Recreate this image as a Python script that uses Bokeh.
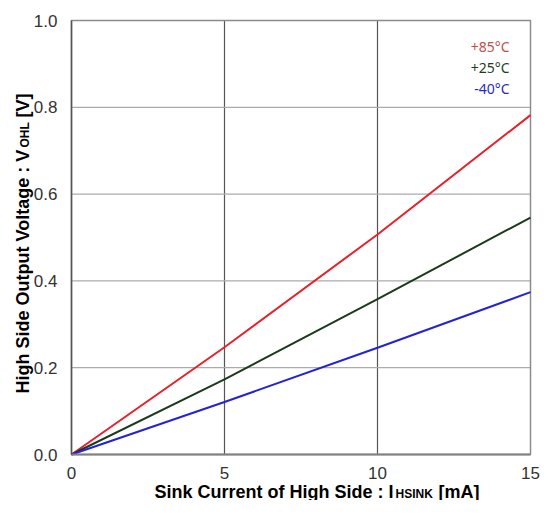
import math
from bokeh.plotting import figure
from bokeh.models import Label, FixedTicker, Range1d, PrintfTickFormatter
from bokeh.embed import file_html
from bokeh.resources import INLINE

# ---- data ----
current_ma = [0, 5, 10, 15]
v_85 = [0.0, 0.247, 0.507, 0.782]
v_25 = [0.0, 0.173, 0.358, 0.546]
v_m40 = [0.0, 0.121, 0.246, 0.374]
series_names = ["+85°C", "+25°C", "-40°C"]
x_ticks = [0, 5, 10, 15]
y_ticks = [0.0, 0.2, 0.4, 0.6, 0.8, 1.0]
x_grid = [5, 10]
y_grid = [0.2, 0.4, 0.6, 0.8]
x_lim = (0, 15)
y_lim = (0.0, 1.0)

line_colors = ["#E8202A", "#1C3A1C", "#2222D8"]
text_colors = ["#C0504D", "#1E3F1E", "#2A2AB8"]

# ---- layout (canvas pixels) ----
W, H = 540, 500
F_LEFT, F_RIGHT, F_TOP, F_BOTTOM = 71, 530, 20, 454
sx = (F_RIGHT - F_LEFT) / (x_lim[1] - x_lim[0])
sy = (F_BOTTOM - F_TOP) / (y_lim[1] - y_lim[0])


def px2x(px):
    return x_lim[0] + (px - F_LEFT) / sx


def py2y(py):
    return y_lim[0] + (F_BOTTOM - py) / sy


p = figure(width=W, height=H, output_backend="svg", toolbar_location=None,
           x_range=Range1d(px2x(0), px2x(W)), y_range=Range1d(py2y(H), py2y(0)),
           min_border=0)
p.background_fill_color = "white"
p.border_fill_color = "white"
p.outline_line_color = None
p.grid.visible = False

# grid lines inside the data area
p.segment(x0=x_grid, y0=[y_lim[0]] * len(x_grid), x1=x_grid, y1=[y_lim[1]] * len(x_grid),
          line_color="#555555", line_width=1.2)
p.segment(x0=[x_lim[0]] * len(y_grid), y0=y_grid, x1=[x_lim[1]] * len(y_grid), y1=y_grid,
          line_color="#ababab", line_width=1.2)
# plot-area border
p.quad(left=[x_lim[0]], right=[x_lim[1]], bottom=[y_lim[0]], top=[y_lim[1]],
       fill_color=None, line_color="#8c8c8c", line_width=1.5)

for ax in (p.xaxis[0], p.yaxis[0]):
    ax.major_tick_in = 0
    ax.major_tick_out = 0
    ax.minor_tick_in = 0
    ax.minor_tick_out = 0
    ax.major_label_text_font = "Liberation Sans"
    ax.major_label_text_font_size = "17px"
    ax.major_label_text_color = "#333333"
    ax.axis_label = None

p.xaxis.fixed_location = y_lim[0]
p.yaxis.fixed_location = x_lim[0]
p.xaxis.bounds = x_lim
p.yaxis.bounds = y_lim
p.xaxis.ticker = FixedTicker(ticks=x_ticks)
p.yaxis.ticker = FixedTicker(ticks=y_ticks)
p.yaxis.formatter = PrintfTickFormatter(format="%.1f")
p.xaxis.major_label_standoff = 12
p.yaxis.major_label_standoff = 14
p.xaxis.axis_line_color = "#808080"
p.xaxis.axis_line_width = 2
p.yaxis.axis_line_color = "#555555"
p.yaxis.axis_line_width = 1.5

for ys, c in zip([v_85, v_25, v_m40], line_colors):
    p.line(current_ma, ys, line_color=c, line_width=2)

# legend texts
legend_py = [46, 67, 88]
for name, c, py in zip(series_names, text_colors, legend_py):
    p.add_layout(Label(x=px2x(509), y=py2y(py), text=name, text_align="right",
                       text_baseline="alphabetic", text_font="Noto Sans",
                       text_font_size="14px", text_color=c))

# x axis label (with subscript)
common = dict(text_font="Liberation Sans", text_font_style="bold", text_color="#000000",
              text_baseline="alphabetic")
p.add_layout(Label(x=px2x(393), y=py2y(491), text="Sink Current of High Side : I",
                   text_align="right", text_font_size="18px", **common))
p.add_layout(Label(x=px2x(395), y=py2y(493.5), text="HSINK",
                   text_align="left", text_font_size="12px", **common))
p.add_layout(Label(x=px2x(438), y=py2y(491), text="[mA]",
                   text_align="left", text_font_size="18px", **common))

# y axis label (rotated, with subscript)
p.add_layout(Label(x=px2x(22), y=py2y(393), text="High Side Output Voltage : V",
                   angle=math.pi / 2, text_align="left", text_font_size="18px", **common))
p.add_layout(Label(x=px2x(24.5), y=py2y(147), text="OHL", angle=math.pi / 2,
                   text_align="left", text_font_size="12px", **common))
p.add_layout(Label(x=px2x(22), y=py2y(117), text="[V]", angle=math.pi / 2,
                   text_align="left", text_font_size="18px", **common))

open("out.html", "w").write(file_html(p, INLINE))
